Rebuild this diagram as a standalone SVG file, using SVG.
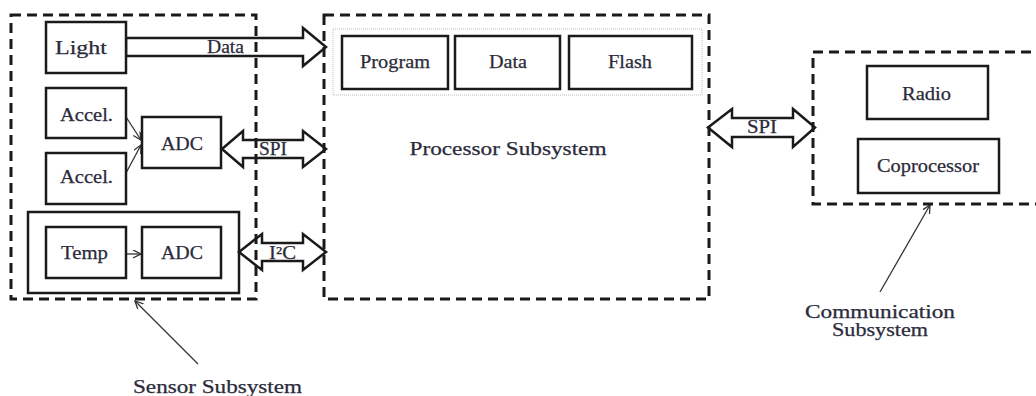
<svg xmlns="http://www.w3.org/2000/svg" width="1036" height="396" viewBox="0 0 1036 396">
<style>
.sub{fill:none;stroke:#1a1a1a;stroke-width:3;stroke-dasharray:10 6}
.box{fill:#fff;stroke:#1a1a1a;stroke-width:2.5}
.bus{fill:none;stroke:#1a1a1a;stroke-width:2.5;stroke-linejoin:miter}
.thin{fill:none;stroke:#333;stroke-width:1.3}
.t{font-family:'Liberation Serif',serif;font-size:18px;fill:#2b2b3b;stroke:#2b2b3b;stroke-width:0.25;text-anchor:middle}
</style>
<defs>
<marker id="open" markerWidth="10" markerHeight="10" refX="8" refY="4" orient="auto" markerUnits="userSpaceOnUse">
<path d="M0,0 L8,4 L0,8" fill="none" stroke="#333" stroke-width="1.3"/>
</marker>
</defs>
<rect x="0" y="0" width="1036" height="396" fill="#fff"/>

<g id="connectors">
<polygon class="bus" points="126,38 303,38 303,28 326,47 303,66 303,56 126,56"/>
<polygon class="bus" points="222,149 243,131 243,140 303,140 303,131 326,149 303,167 303,158 243,158 243,167"/>
<polygon class="bus" points="239,252 262,234 262,243 303,243 303,234 326,252 303,270 303,261 262,261 262,270"/>
<polygon class="bus" points="708,127.5 732,109 732,118 793,118 793,109 815,127.5 793,147 793,137 732,137 732,147"/>
<line class="thin" x1="126" y1="117" x2="141" y2="140" marker-end="url(#open)"/>
<line class="thin" x1="126" y1="173" x2="141" y2="145" marker-end="url(#open)"/>
<line class="thin" x1="126" y1="254" x2="141" y2="254" marker-end="url(#open)"/>
<line class="thin" x1="198" y1="364" x2="135" y2="301" marker-end="url(#open)"/>
<line class="thin" x1="880" y1="292" x2="930" y2="205" marker-end="url(#open)"/>
<text class="t" x="225.5" y="53" textLength="37" lengthAdjust="spacingAndGlyphs">Data</text>
<text class="t" x="273" y="155" textLength="28" lengthAdjust="spacingAndGlyphs">SPI</text>
<text class="t" x="282.5" y="259" textLength="27" lengthAdjust="spacingAndGlyphs">I²C</text>
<text class="t" x="762" y="133" textLength="30" lengthAdjust="spacingAndGlyphs">SPI</text>
</g>

<g id="sensor-subsystem">
<rect class="sub" x="11" y="15" width="245" height="284"/>
<text class="t" x="217.5" y="393" textLength="169" lengthAdjust="spacingAndGlyphs">Sensor Subsystem</text>
</g>
<g id="light">
<rect class="box" x="46" y="22" width="80" height="51"/>
<text class="t" x="81" y="54" textLength="52" lengthAdjust="spacingAndGlyphs">Light</text>
</g>
<g id="accel1">
<rect class="box" x="46" y="88" width="80" height="50"/>
<text class="t" x="86.5" y="121" textLength="53" lengthAdjust="spacingAndGlyphs">Accel.</text>
</g>
<g id="accel2">
<rect class="box" x="46" y="153" width="80" height="51"/>
<text class="t" x="86.5" y="183" textLength="53" lengthAdjust="spacingAndGlyphs">Accel.</text>
</g>
<g id="adc1">
<rect class="box" x="142" y="117" width="79" height="51"/>
<text class="t" x="182" y="150" textLength="42" lengthAdjust="spacingAndGlyphs">ADC</text>
</g>
<g id="temp-module">
<rect x="28" y="212" width="211" height="81" fill="none" stroke="#1a1a1a" stroke-width="2.5"/>
</g>
<g id="temp">
<rect class="box" x="46" y="227" width="80" height="51"/>
<text class="t" x="84.5" y="259" textLength="47" lengthAdjust="spacingAndGlyphs">Temp</text>
</g>
<g id="adc2">
<rect class="box" x="142" y="227" width="79" height="51"/>
<text class="t" x="182" y="259" textLength="42" lengthAdjust="spacingAndGlyphs">ADC</text>
</g>

<g id="processor-subsystem">
<rect class="sub" x="324" y="15" width="385" height="284"/>
<rect x="333" y="29" width="369" height="66" fill="none" stroke="#bbb" stroke-width="1" stroke-dasharray="1 1"/>
<text class="t" x="508" y="155" textLength="197" lengthAdjust="spacingAndGlyphs">Processor Subsystem</text>
</g>
<g id="program">
<rect class="box" x="342" y="36" width="106" height="53"/>
<text class="t" x="395" y="68" textLength="70" lengthAdjust="spacingAndGlyphs">Program</text>
</g>
<g id="data">
<rect class="box" x="455" y="36" width="105" height="53"/>
<text class="t" x="508" y="68" textLength="38" lengthAdjust="spacingAndGlyphs">Data</text>
</g>
<g id="flash">
<rect class="box" x="569" y="36" width="123" height="53"/>
<text class="t" x="630" y="68" textLength="44" lengthAdjust="spacingAndGlyphs">Flash</text>
</g>

<g id="communication-subsystem">
<rect class="sub" x="813" y="52" width="240" height="152"/>
<text class="t" x="880" y="318" textLength="150" lengthAdjust="spacingAndGlyphs">Communication</text>
<text class="t" x="880" y="336" textLength="96" lengthAdjust="spacingAndGlyphs">Subsystem</text>
</g>
<g id="radio">
<rect class="box" x="867" y="66" width="121" height="53"/>
<text class="t" x="926.5" y="100" textLength="49" lengthAdjust="spacingAndGlyphs">Radio</text>
</g>
<g id="coprocessor">
<rect class="box" x="858" y="139" width="141" height="54"/>
<text class="t" x="928" y="172" textLength="102" lengthAdjust="spacingAndGlyphs">Coprocessor</text>
</g>
</svg>
